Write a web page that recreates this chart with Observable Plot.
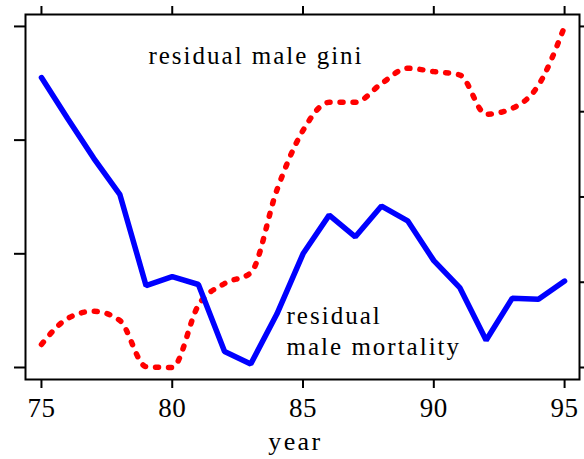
<!DOCTYPE html>
<html>
<head>
<meta charset="utf-8">
<script src="https://cdn.jsdelivr.net/npm/d3@7"></script>
<script src="https://cdn.jsdelivr.net/npm/@observablehq/plot@0.6"></script>
<style>
  html, body { margin: 0; padding: 0; background: #fff; }
  #chart { width: 584px; height: 459px; }
  svg text { font-family: 'Liberation Serif', 'Times New Roman', serif !important; }
</style>
</head>
<body>
<div id="chart"></div>
<script>
// Data
const years = [75,76,77,78,79,80,81,82,83,84,85,86,87,88,89,90,91,92,93,94,95];
// residual male mortality (left axis units)
const mortality = [2.55,2.19,1.84,1.52,0.72,0.80,0.73,0.14,0.03,0.47,1.00,1.34,1.15,1.42,1.29,0.94,0.70,0.24,0.61,0.60,0.76];
// residual male gini (right axis units)
const gini = [0.27,0.575,0.66,0.55,0.01,0.0,0.73,0.985,1.11,2.08,2.78,3.11,3.11,3.33,3.51,3.47,3.43,2.97,3.04,3.31,4.0];
const xTicks = [75,80,85,90,95];
const leftTicks = [0,1,2,3];
const rightTicks = [0,1,2,3,4];
const rightToLeft = 0.75; // right-axis unit expressed in left-axis units
const labels = [
  {text: "residual male gini", x: 79.09, y: 2.736},
  {text: "residual", x: 84.37, y: 0.457},
  {text: "male mortality", x: 84.37, y: 0.176}
];
const xLabel = "year";

const mortRows = years.map((yr, i) => ({year: yr, v: mortality[i]}));
const giniRows = years.map((yr, i) => ({year: yr, v: gini[i] * rightToLeft}));
const serif = "'Liberation Serif', 'Times New Roman', serif";

const chart = Plot.plot({
  width: 584,
  height: 459,
  marginLeft: 25,
  marginRight: 5,
  marginTop: 14,
  marginBottom: 80,
  style: {fontFamily: serif, fontSize: "24px", background: "white", overflow: "visible"},
  x: {domain: [74.39, 95.57]},
  y: {domain: [-0.1056, 3.105]},
  marks: [
    Plot.line(giniRows, {x: "year", y: "v", stroke: "#ff0000", strokeWidth: 5.5, strokeDasharray: "3,10", strokeLinecap: "round", curve: "monotone-x"}),
    Plot.line(mortRows, {x: "year", y: "v", stroke: "#0000ff", strokeWidth: 5.5, strokeLinejoin: "miter", strokeLinecap: "round"}),
    Plot.text(labels, {x: "x", y: "y", text: "text", textAnchor: "start", lineAnchor: "middle", fontSize: 25, fontFamily: serif, fill: "black"}),
    Plot.frame({stroke: "black", strokeWidth: 2}),
    Plot.axisX({anchor: "bottom", ticks: xTicks, tickSize: 9, tickPadding: 9, tickFormat: d => String(d), fontSize: 27, fontFamily: serif, strokeWidth: 2, label: null}),
    Plot.axisX({anchor: "top", ticks: xTicks, tickSize: 9, tickFormat: () => "", strokeWidth: 2, label: null}),
    Plot.axisY({anchor: "left", ticks: leftTicks, tickSize: 11, tickFormat: () => "", strokeWidth: 2, label: null}),
    Plot.axisY({anchor: "right", ticks: rightTicks.map(t => t * rightToLeft), tickSize: 8, tickFormat: () => "", strokeWidth: 2, label: null}),
    Plot.text([xLabel], {x: [84.71], frameAnchor: "bottom", text: d => d, lineAnchor: "top", dy: 52.5, fontSize: 26, fontFamily: serif})
  ]
});
const annotTexts = new Set(labels.map(d => d.text));
const tickTexts = new Set(xTicks.map(String));
chart.querySelectorAll("text").forEach(t => {
  const s = t.textContent;
  if (annotTexts.has(s)) t.style.letterSpacing = "2px";
  else if (s === xLabel) t.style.letterSpacing = "2.4px";
  else if (tickTexts.has(s)) { t.style.letterSpacing = "0.5px"; t.style.fontVariant = "normal"; }
});
document.getElementById("chart").appendChild(chart);
</script>
</body>
</html>
